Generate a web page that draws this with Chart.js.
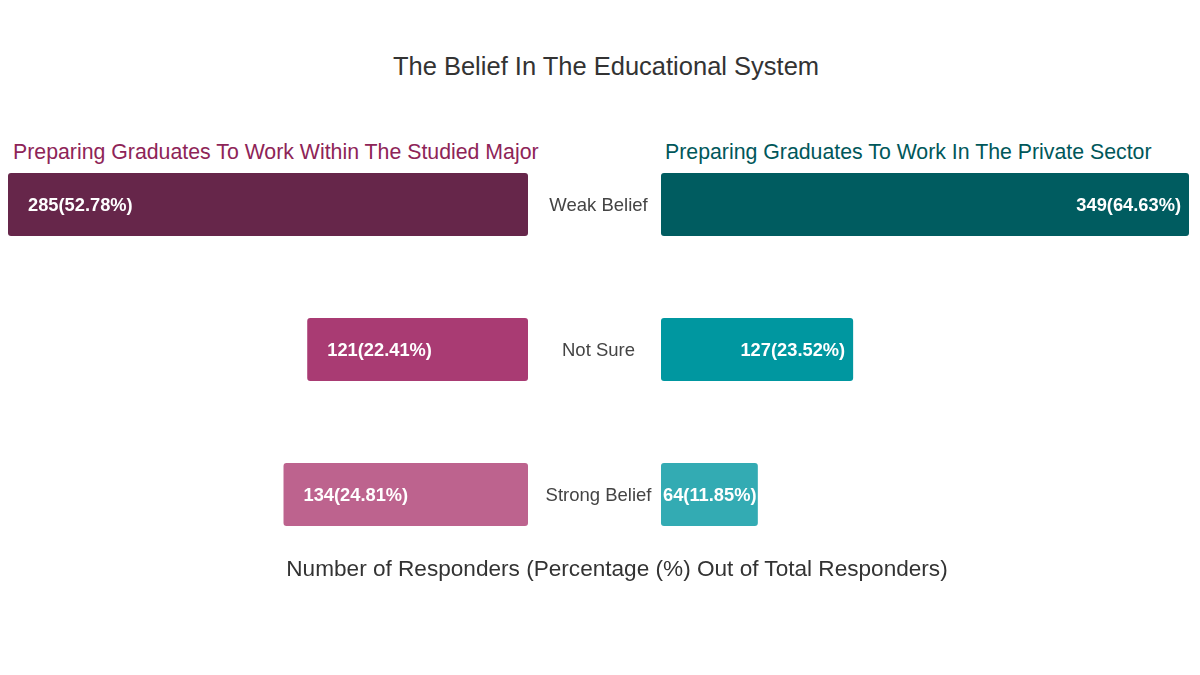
<!DOCTYPE html>
<html>
<head>
<meta charset="utf-8">
<title>The Belief In The Educational System</title>
<script src="https://cdn.jsdelivr.net/npm/chart.js@4.4.0/dist/chart.umd.min.js"></script>
<style>
  body { margin: 0; background: #fff; font-family: "Liberation Sans", Arial, sans-serif; }
  #wrap { position: relative; width: 1200px; height: 675px; overflow: hidden; background: #fff; }
  .txt { position: absolute; white-space: nowrap; }
  #title { left: 0; width: 1212px; top: 51px; line-height: 30px; text-align: center; font-size: 25.5px; color: #333; }
  #subLeft { left: 13px; top: 139px; line-height: 26px; font-size: 21.3px; color: #8e2457; }
  #subRight { left: 665px; top: 139px; line-height: 26px; font-size: 21.3px; color: #00575a; }
  #axisTitle { left: 0; width: 1234px; top: 555px; line-height: 28px; text-align: center; font-size: 22.6px; color: #333; }
  #leftBox { position: absolute; left: 8px; top: 132px; }
  #rightBox { position: absolute; left: 661px; top: 132px; }
</style>
</head>
<body>
<div id="wrap">
  <div class="txt" id="title">The Belief In The Educational System</div>
  <div class="txt" id="subLeft">Preparing Graduates To Work Within The Studied Major</div>
  <div class="txt" id="subRight">Preparing Graduates To Work In The Private Sector</div>
  <div id="leftBox"><canvas id="leftChart" width="653" height="435"></canvas></div>
  <div id="rightBox"><canvas id="rightChart" width="528" height="435"></canvas></div>
  <div class="txt" id="axisTitle">Number of Responders (Percentage (%) Out of Total Responders)</div>
</div>
<script>
// categories (top to bottom)
const beliefLevels = ["Weak Belief", "Not Sure", "Strong Belief"];

// Preparing graduates to work within the studied major
const majorCounts = [285, 121, 134];
const majorPercents = [52.78, 22.41, 24.81];
const majorColors = ["#66264a", "#a93b73", "#bd638e"];

// Preparing graduates to work in the private sector
const privateCounts = [349, 127, 64];
const privatePercents = [64.63, 23.52, 11.85];
const privateColors = ["#005c60", "#0097a0", "#33abb3"];

const FONT = '"Liberation Sans", Arial, sans-serif';

// draws "count(percent%)" inside each bar
const valueLabels = {
  id: "valueLabels",
  afterDatasetsDraw(chart, args, opts) {
    const ctx = chart.ctx;
    const meta = chart.getDatasetMeta(0);
    ctx.save();
    ctx.font = "bold 18.3px " + FONT;
    ctx.fillStyle = "#ffffff";
    ctx.textBaseline = "middle";
    meta.data.forEach((bar, i) => {
      const txt = opts.counts[i] + "(" + opts.percents[i].toFixed(2) + "%)";
      const lo = Math.min(bar.x, bar.base), hi = Math.max(bar.x, bar.base);
      if (opts.side === "left") {
        ctx.textAlign = "left";
        ctx.fillText(txt, lo + 20, bar.y + 1);
      } else {
        const w = ctx.measureText(txt).width;
        ctx.textAlign = "right";
        ctx.fillText(txt, Math.max(hi - 8, lo + w + 2), bar.y + 1);
      }
    });
    ctx.restore();
  }
};

// category names in the gap between the two halves
const centerLabels = {
  id: "centerLabels",
  afterDraw(chart, args, opts) {
    const ctx = chart.ctx;
    const y = chart.scales.y;
    ctx.save();
    ctx.font = "18.5px " + FONT;
    ctx.fillStyle = "#444";
    ctx.textAlign = "center";
    ctx.textBaseline = "middle";
    chart.data.labels.forEach((lab, i) => {
      ctx.fillText(lab, chart.chartArea.right + opts.offset, y.getPixelForValue(i) + 1);
    });
    ctx.restore();
  }
};

const barStyle = {
  borderRadius: 3,
  borderSkipped: false,
  barPercentage: 1,
  categoryPercentage: 0.434
};

// left side, bars grow to the left
new Chart(document.getElementById("leftChart").getContext("2d"), {
  type: "bar",
  data: {
    labels: beliefLevels,
    datasets: [Object.assign({
      data: majorCounts,
      backgroundColor: majorColors
    }, barStyle)]
  },
  options: {
    indexAxis: "y",
    responsive: false,
    animation: false,
    layout: { padding: { left: 0, right: 133, top: 0, bottom: 0 } },
    plugins: {
      legend: { display: false },
      tooltip: { enabled: false },
      valueLabels: { side: "left", counts: majorCounts, percents: majorPercents },
      centerLabels: { offset: 70.5 }
    },
    scales: {
      x: { display: false, reverse: true, min: 0, max: Math.max(...majorCounts) },
      y: { display: false }
    }
  },
  plugins: [valueLabels, centerLabels]
});

// right side, bars grow to the right
new Chart(document.getElementById("rightChart").getContext("2d"), {
  type: "bar",
  data: {
    labels: beliefLevels,
    datasets: [Object.assign({
      data: privateCounts,
      backgroundColor: privateColors
    }, barStyle)]
  },
  options: {
    indexAxis: "y",
    responsive: false,
    animation: false,
    layout: { padding: 0 },
    plugins: {
      legend: { display: false },
      tooltip: { enabled: false },
      valueLabels: { side: "right", counts: privateCounts, percents: privatePercents }
    },
    scales: {
      x: { display: false, min: 0, max: Math.max(...privateCounts) },
      y: { display: false }
    }
  },
  plugins: [valueLabels]
});
</script>
</body>
</html>
